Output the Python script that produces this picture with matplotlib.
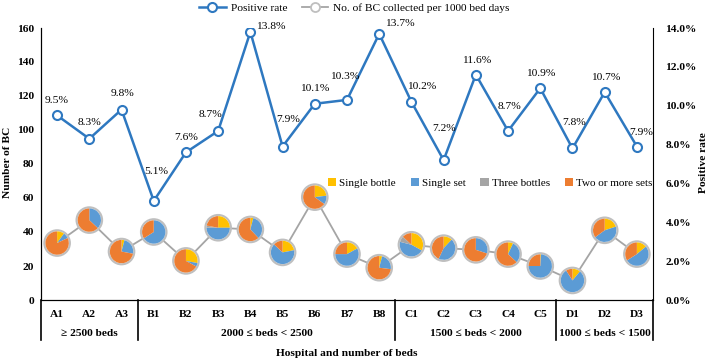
import matplotlib
matplotlib.use("Agg")
import matplotlib.pyplot as plt
import matplotlib.transforms as mtransforms
from matplotlib.lines import Line2D
from matplotlib.patches import Patch, Wedge, Circle
from matplotlib.offsetbox import DrawingArea, AnnotationBbox

hospitals = ["A1", "A2", "A3", "B1", "B2", "B3", "B4", "B5", "B6", "B7", "B8",
             "C1", "C2", "C3", "C4", "C5", "D1", "D2", "D3"]
positive_rate = [9.5, 8.3, 9.8, 5.1, 7.6, 8.7, 13.8, 7.9, 10.1, 10.3, 13.7,
                 10.2, 7.2, 11.6, 8.7, 10.9, 7.8, 10.7, 7.9]
bc_per_1000 = [33.5, 47, 28.5, 40, 23, 42.5, 41.5, 28, 60.5, 27, 19,
               32.5, 30.5, 29.5, 27, 20, 11.5, 41, 27]

# pie shares (%) per hospital
single_bottle = [10, 0, 4, 0, 28, 25, 4, 22, 23, 17, 4, 33, 12, 0, 7, 1, 11, 20, 14]
single_set = [8, 37, 24, 66, 5, 50, 34, 65, 12, 58, 23, 46, 45, 30, 30, 74, 80, 45, 52]
three_bottles = [0, 0, 0, 0, 0, 3, 0, 0, 0, 0, 0, 8, 0, 0, 0, 0, 0, 0, 0]
two_or_more = [82, 63, 72, 34, 67, 22, 62, 13, 65, 25, 73, 13, 43, 70, 63, 25, 9, 35, 34]

groups = ["\u2265 2500 beds", "2000 \u2264 beds < 2500", "1500 \u2264 beds < 2000", "1000 \u2264 beds < 1500"]
group_sizes = [3, 8, 5, 3]

# label offsets in pixels (dx, dy)
label_offsets = [(0, 15), (0, 16), (1, 16), (3, 29), (0, 15), (-8, 16), (20, 5),
                 (6, 27), (0, 15), (-2, 23), (21, 10), (10, 15), (0, 32), (1, 14),
                 (1, 24), (0, 15), (2, 26), (1, 15), (4, 14)]

pie_colors = ["#FFC000", "#5B9BD5", "#A5A5A5", "#ED7D31"]
pie_names = ["Single bottle", "Single set", "Three bottles", "Two or more sets"]
blue = "#2E78C0"
grey = "#A5A5A5"

plt.rcParams["font.family"] = ["Liberation Serif", "DejaVu Serif"]

fig = plt.figure(figsize=(7.09, 3.61), dpi=100)
ax = fig.add_axes([41 / 709, 1 - 300 / 361, 612 / 709, 272 / 361])
ax2 = ax.twinx()

x = list(range(len(hospitals)))

ax.plot(x, bc_per_1000, color=grey, lw=1.3, zorder=1)
ax.set_ylim(0, 160)
ax.set_xlim(-0.5, len(hospitals) - 0.5)
ax.set_yticks(range(0, 161, 20))
ax.tick_params(axis="y", length=0, labelsize=8.2, pad=5)
ax.set_xticks(x)
ax.set_xticklabels(hospitals, fontweight="bold")
ax.tick_params(axis="x", length=0, labelsize=8.2, pad=7)
for lab in ax.get_yticklabels():
    lab.set_fontweight("bold")
ax.spines["top"].set_visible(False)
ax.spines["right"].set_visible(False)

# pies
r_pie = 8.4
r_ring = 9.2
R = r_ring + 1.0
for i in x:
    shares = [single_bottle[i], single_set[i], three_bottles[i], two_or_more[i]]
    tot = sum(shares)
    da = DrawingArea(2 * R, 2 * R, 0, 0)
    da.add_artist(Circle((R, R), r_ring, facecolor="white", edgecolor="#BFBFBF", lw=1.5))
    cum = 0.0
    for s, c in zip(shares, pie_colors):
        if s <= 0:
            continue
        a1 = 90 - (cum + s) / tot * 360
        a2 = 90 - cum / tot * 360
        da.add_artist(Wedge((R, R), r_pie, a1, a2, facecolor=c, edgecolor="none"))
        cum += s
    ab = AnnotationBbox(da, (i, bc_per_1000[i]), frameon=False, pad=0,
                        box_alignment=(0.5, 0.5), zorder=2)
    ax.add_artist(ab)

# positive rate line
ax2.plot(x, positive_rate, color=blue, lw=1.8, marker="o", ms=6.5,
         mfc="white", mec=blue, mew=1.5, zorder=3)
ax2.set_ylim(0, 14)
ax2.set_yticks(range(0, 15, 2))
ax2.set_yticklabels([f"{v:.1f}%" for v in range(0, 15, 2)], fontweight="bold")
ax2.tick_params(axis="y", length=0, labelsize=8.2, pad=9)
ax2.spines["top"].set_visible(False)
for i in x:
    ax2.annotate(f"{positive_rate[i]:.1f}%", (i, positive_rate[i]),
                 xytext=label_offsets[i], textcoords="offset pixels",
                 ha="center", va="center", fontsize=8.2)

# group separators and labels
trans = mtransforms.blended_transform_factory(ax.transData, ax.transAxes)
edges = [-0.5]
for n in group_sizes:
    edges.append(edges[-1] + n)
for e in edges:
    ax.plot([e, e], [0, -40 / 272], transform=trans, color="black", lw=1.2, clip_on=False)
for g, a, b in zip(groups, edges[:-1], edges[1:]):
    ax.text((a + b) / 2, -34 / 272, g, transform=trans, ha="center", va="center",
            fontsize=8.2, fontweight="bold")

ax.text(0.5, -53 / 272, "Hospital and number of beds", transform=ax.transAxes,
        ha="center", va="center", fontsize=8.2, fontweight="bold")
fig.text(8 / 709, 1 - 162 / 361, "Number of BC", rotation=90, ha="center", va="center",
         fontsize=8.2, fontweight="bold")
fig.text(703 / 709, 1 - 163 / 361, "Positive rate", rotation=90, ha="center", va="center",
         fontsize=8.2, fontweight="bold")

# legends
h1 = [Line2D([], [], color=blue, lw=1.8, marker="o", ms=6.5, mfc="white", mec=blue, mew=1.5),
      Line2D([], [], color=grey, lw=1.3, marker="o", ms=6.5, mfc="white", mec="#BFBFBF", mew=1.3)]
fig.legend(h1, ["Positive rate", "No. of BC collected per 1000 bed days"],
           loc="center", bbox_to_anchor=(0.5, 1 - 8 / 361), ncol=2, frameon=False,
           fontsize=8.2, handlelength=2.3, columnspacing=1.3, handletextpad=0.45)

h2 = [Patch(facecolor=c) for c in pie_colors]
ax2.legend(h2, pie_names, loc="center", bbox_to_anchor=(0.734, (300 - 183) / 272),
           ncol=4, frameon=False, fontsize=8, handlelength=0.75, handleheight=0.75,
           handletextpad=0.3, columnspacing=1.3)

fig.savefig("out.png", dpi=100)
